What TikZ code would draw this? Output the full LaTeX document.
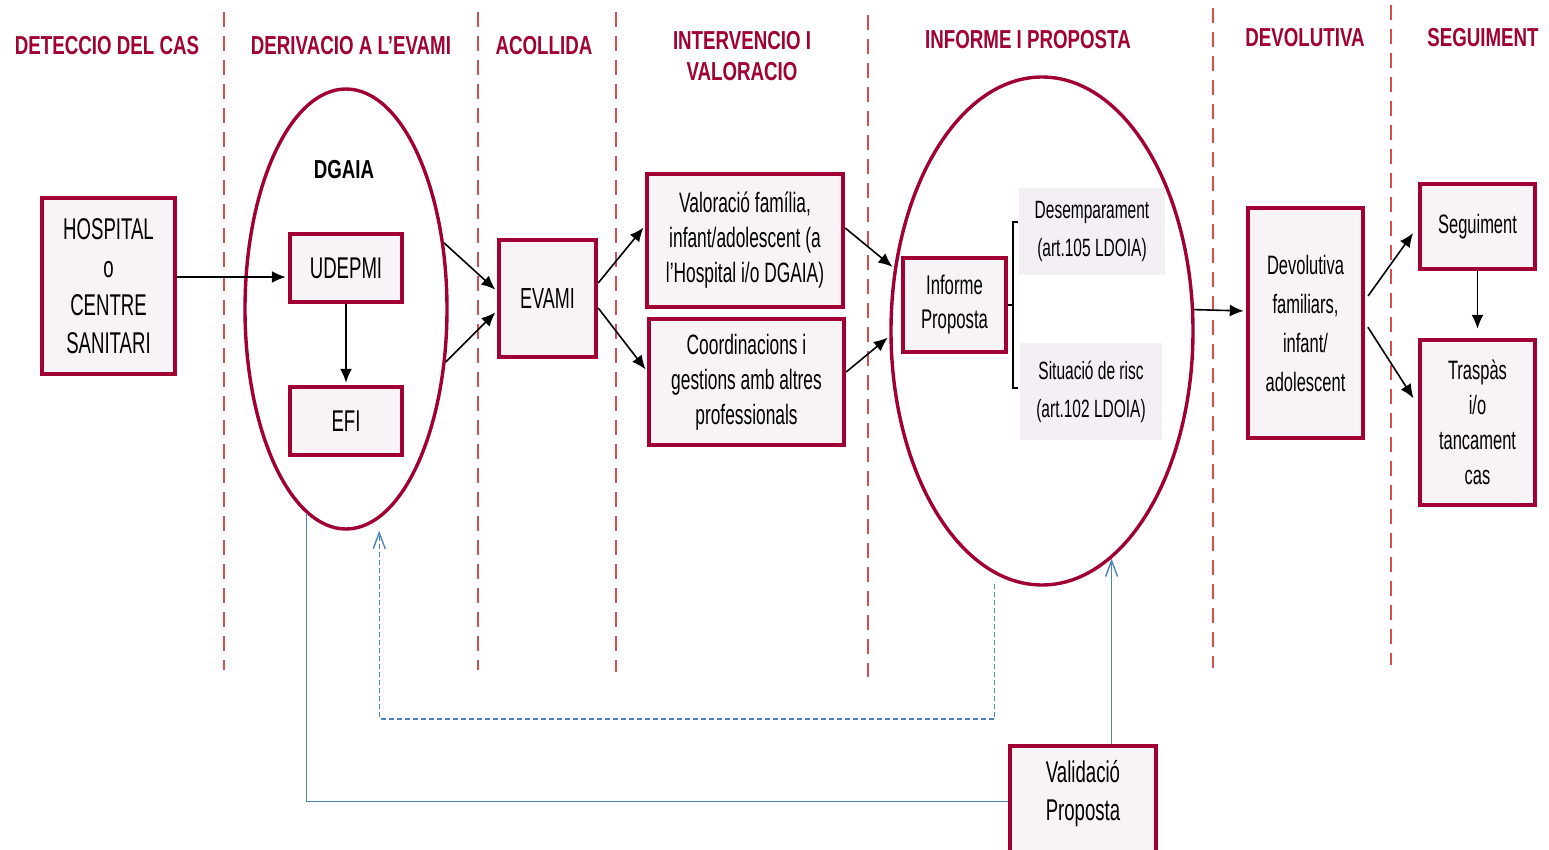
\documentclass[tikz,border=0pt]{standalone}
\usepackage{fontspec}
\setmainfont[FakeStretch=0.62]{Liberation Sans}
\newfontfamily\headfont[FakeStretch=0.72]{Liberation Sans}
\usetikzlibrary{arrows,arrows.meta,shapes.geometric,positioning}

\definecolor{wine}{RGB}{160,0,50}
\definecolor{phasered}{RGB}{210,80,80}
\definecolor{boxfill}{RGB}{247,243,247}
\definecolor{notefill}{RGB}{243,239,244}
\definecolor{linkblue}{RGB}{79,129,189}

\begin{document}
\begin{tikzpicture}[x=0.5pt,y=-0.5pt,>={Latex[length=7pt,width=6pt]},thick,
    box/.style={rectangle,draw=wine,line width=2.2pt,fill=boxfill,align=center,inner sep=0pt,font=\fontsize{14}{17.5}\selectfont},
    group/.style={ellipse,draw=wine,line width=1.7pt,inner sep=0pt},
    note/.style={rectangle,fill=notefill,align=center,inner sep=0pt,font=\fontsize{12.5}{19}\selectfont},
    head/.style={text=wine,align=center,font=\headfont\bfseries\fontsize{13}{15.5}\selectfont},
    phase/.style={phasered,line width=1pt,dash pattern=on 7.5pt off 4.5pt},
    flow/.style={->,shorten >=1pt},
    link/.style={linkblue,line width=0.7pt},
    back/.style={link,-{Straight Barb[length=8pt,width=6pt]}}]

    \useasboundingbox (0,0) rectangle (1549,850);

    % phase separators
    \foreach \px/\ya/\yb in {224/12/670,478/12/670,616/12/672,868/15/677,1213/8/668,1391/5/665}
      \draw[phase] (\px,\ya) -- (\px,\yb);

    % phase titles
    \node[head] (hdetect) at (107,46)  {DETECCIO DEL CAS};
    \node[head] (hderiv)  at (351,46)  {DERIVACIO A L’EVAMI};
    \node[head] (hacoll)  at (544,46)  {ACOLLIDA};
    \node[head] (hinterv) at (742,56)  {INTERVENCIO I\\VALORACIO};
    \node[head] (hinform) at (1028,40) {INFORME I PROPOSTA};
    \node[head] (hdevol)  at (1305,38) {DEVOLUTIVA};
    \node[head] (hsegui)  at (1483,38) {SEGUIMENT};

    \node[group,minimum width=101pt,minimum height=220pt] (dgaia)   at (346,309)  {};
    \node[group,minimum width=151pt,minimum height=254pt] (informe) at (1042,331) {};
    \node[font=\headfont\bfseries\fontsize{13}{15}\selectfont] (dgaialbl) at (344,170) {DGAIA};

    \node[box,minimum width=66.5pt,minimum height=88pt,font=\fontsize{15}{19}\selectfont] (hosp) at (108.5,286) {HOSPITAL\\o\\CENTRE\\SANITARI};
    \node[box,minimum width=56pt,minimum height=34pt,font=\fontsize{15}{18}\selectfont]   (udepmi) at (346,268) {UDEPMI};
    \node[box,minimum width=56pt,minimum height=34pt,font=\fontsize{15}{18}\selectfont]   (efi)    at (346,421) {EFI};
    \node[box,minimum width=48.5pt,minimum height=58.5pt,font=\fontsize{14.5}{18}\selectfont] (evami) at (547.5,298.5) {EVAMI};
    \node[box,minimum width=98pt,minimum height=66.5pt]  (valor) at (745,240.5) {Valoració família,\\infant/adolescent (a\\l'Hospital i/o DGAIA)};
    \node[box,minimum width=97.5pt,minimum height=63pt]  (coord) at (746.5,382) {Coordinacions i\\gestions amb altres\\professionals};
    \node[box,minimum width=51.5pt,minimum height=47pt,font=\fontsize{13.5}{17}\selectfont] (inprop) at (954.5,305) {Informe\\Proposta};
    \node[note,minimum width=73pt,minimum height=43.5pt] (desemp) at (1092,231.5) {Desemparament\\(art.105 LDOIA)};
    \node[note,minimum width=71pt,minimum height=48.5pt] (risc)   at (1091,391.5) {Situació de risc\\(art.102 LDOIA)};
    \node[box,minimum width=57.5pt,minimum height=115pt,font=\fontsize{13.3}{19.5}\selectfont] (devol) at (1305.5,323) {Devolutiva\\familiars,\\infant/\\adolescent};
    \node[box,minimum width=57.5pt,minimum height=42.5pt,font=\fontsize{13.3}{17.5}\selectfont] (segui) at (1477.5,226.5) {Seguiment};
    \node[box,minimum width=57.5pt,minimum height=82.5pt,font=\fontsize{13.3}{17.5}\selectfont] (trasp) at (1477.5,422.5) {Traspàs\\i/o\\tancament\\cas};
    \node[box,minimum width=73pt,minimum height=63pt,anchor=north,font=\fontsize{15}{19}\selectfont] (valid) at (1083,744) {Validació\\Proposta\\~};

    % bracket
    \draw[semithick] (inprop.east) -- (1013,305);
    \draw[semithick] (1018,222) -- (1013,222) -- (1013,388) -- (1018,388);

    \draw[flow] ([yshift=4.5pt]hosp.east) -- ([yshift=-4.5pt]udepmi.west);
    \draw[flow] (udepmi) -- (efi);
    \draw[flow] (dgaia.34.5) -- ([yshift=3.75pt]evami.west);
    \draw[flow] (dgaia.332) -- ([yshift=-6.25pt]evami.west);
    \draw[flow] ([yshift=7.75pt]evami.east) -- ([yshift=7.25pt]valor.west);
    \draw[flow] ([yshift=-4.75pt]evami.east) -- ([yshift=5.5pt]coord.west);
    \draw[flow] ([yshift=6.25pt]valor.east) -- (informe.157);
    \draw[flow] ([yshift=5pt]coord.east) -- (informe.182);
    \draw[flow] (informe.8) -- ([yshift=6pt]devol.west);
    \draw[flow,shorten <=2.5pt,shorten >=4pt] ([yshift=11.5pt]devol.east) -- (segui.west);
    \draw[flow,shorten <=2.5pt,shorten >=4pt] (devol.east) -- ([yshift=8.75pt]trasp.west);
    \draw[flow,shorten >=4.5pt] (segui) -- (trasp);

    % validation loop
    \coordinate (dashturn) at (700,719);
    \draw[link] (dgaia.259) |- ([yshift=4pt]valid.west);
    \draw[back] (informe.287.3 |- valid.north) -- (informe.287.3);
    \draw[back,dash pattern=on 2.5pt off 1.5pt,shorten <=5pt,shorten >=6pt] (informe.259.5) |- (dashturn) -| (dgaia.279);
\end{tikzpicture}
\end{document}
